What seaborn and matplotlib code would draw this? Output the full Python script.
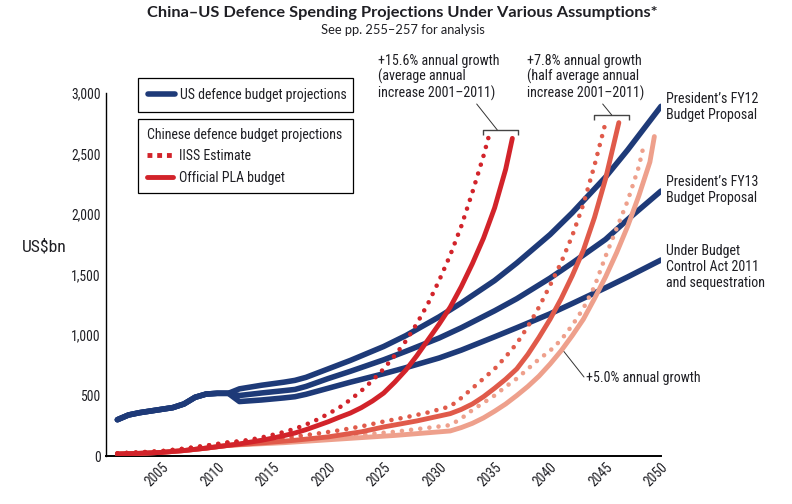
import matplotlib
matplotlib.use("Agg")
import matplotlib.pyplot as plt
import seaborn as sns
import pandas as pd
from matplotlib import font_manager
from matplotlib.lines import Line2D
from matplotlib.ticker import FixedLocator, FuncFormatter

# ---------------- data ----------------
us_hist_years = [2001, 2002, 2003, 2004, 2005, 2006, 2007, 2008, 2009, 2010, 2011]
us_hist = [300, 339, 358, 372, 386, 400, 430, 485, 512, 518, 518]

us_proj_years = [2012, 2014, 2016, 2017, 2018, 2020, 2022, 2025, 2027, 2030, 2032, 2035,
                 2037, 2040, 2042, 2045, 2047, 2050]
us_fy12 = [555, 585, 610, 625, 650, 720, 790, 905, 995, 1150, 1265, 1450,
           1595, 1830, 2010, 2305, 2530, 2890]
us_fy13 = [500, 521, 540, 550, 575, 640, 700, 795, 865, 975, 1060, 1200,
           1300, 1470, 1595, 1790, 1955, 2190]
us_bca = [450, 463, 480, 490, 510, 560, 610, 680, 730, 810, 875, 985,
          1060, 1175, 1260, 1390, 1480, 1620]

cn_hist_years = [2001, 2003, 2005, 2007, 2009]
cn_official_hist = [17, 22, 30, 45, 65]
cn_iiss_hist = [22, 30, 40, 60, 85]

off156_years = [2011, 2012, 2013, 2014, 2015, 2016, 2017, 2018, 2019, 2020, 2021, 2022, 2023,
                2024, 2025, 2026, 2027, 2028, 2029, 2030, 2031, 2032, 2033, 2034, 2035, 2036,
                2036.6]
off156 = [88, 100, 115, 130, 148, 168, 190, 218, 250, 283, 320, 355, 400,
          455, 520, 610, 710, 830, 960, 1090, 1230, 1400, 1590, 1800, 2050, 2370,
          2625]
iiss156_years = [2011, 2012, 2013, 2014, 2015, 2016, 2017, 2018, 2019, 2020, 2021, 2022, 2023,
                 2024, 2025, 2026, 2027, 2028, 2029, 2030, 2031, 2032, 2033, 2034, 2034.5]
iiss156 = [112, 122, 135, 153, 175, 198, 225, 260, 300, 348, 400, 465, 540,
           625, 720, 830, 950, 1095, 1260, 1450, 1660, 1900, 2180, 2480, 2650]

off78_years = [2011, 2014, 2017, 2020, 2023, 2025, 2028, 2031, 2032, 2033, 2034, 2035, 2036,
               2037, 2038, 2039, 2040, 2041, 2042, 2043, 2044, 2045, 2046.2]
off78 = [88, 108, 130, 158, 200, 240, 290, 350, 385, 430, 490, 560, 635,
         720, 840, 980, 1130, 1300, 1490, 1700, 1970, 2290, 2755]
iiss78_years = [2011, 2013, 2015, 2017, 2019, 2021, 2023, 2025, 2027, 2029, 2031, 2032, 2033,
                2034, 2035, 2036, 2037, 2038, 2039, 2040, 2041, 2042, 2043, 2044, 2045.1]
iiss78 = [112, 125, 140, 160, 185, 212, 245, 285, 320, 360, 410, 480, 560,
          640, 720, 820, 930, 1070, 1230, 1410, 1600, 1820, 2080, 2400, 2790]

off50_years = [2011, 2016, 2021, 2026, 2031, 2032, 2033, 2034, 2035, 2036, 2037, 2038, 2039,
               2040, 2041, 2042, 2043, 2044, 2045, 2046, 2047, 2048, 2049, 2049.4]
off50 = [88, 110, 140, 170, 207, 235, 270, 315, 370, 430, 500, 575, 660,
         760, 870, 995, 1130, 1300, 1480, 1680, 1900, 2150, 2430, 2640]
iiss50_years = [2011, 2016, 2021, 2026, 2031, 2032, 2033, 2034, 2035, 2036, 2037, 2038, 2039,
                2040, 2041, 2042, 2043, 2044, 2045, 2046, 2047, 2048, 2048.4]
iiss50 = [112, 130, 160, 200, 255, 310, 380, 440, 500, 573, 640, 720, 800,
          870, 960, 1080, 1220, 1400, 1650, 1880, 2110, 2390, 2550]

y_ticks = [0, 500, 1000, 1500, 2000, 2500, 3000]
x_major = [2005, 2010, 2015, 2020, 2025, 2030, 2035, 2040, 2045, 2050]

title = "China\u2013US Defence Spending Projections Under Various Assumptions*"
subtitle = "See pp. 255\u2013257 for analysis"
ylabel = "US$bn"
lbl_fy12 = "President\u2019s FY12\nBudget Proposal"
lbl_fy13 = "President\u2019s FY13\nBudget Proposal"
lbl_bca = "Under Budget\nControl Act 2011\nand sequestration"
lbl_156 = "+15.6% annual growth\n(average annual\nincrease 2001\u20132011)"
lbl_78 = "+7.8% annual growth\n(half average annual\nincrease 2001\u20132011)"
lbl_50 = "+5.0% annual growth"
leg_us = "US defence budget projections"
leg_cn_title = "Chinese defence budget projections"
leg_iiss = "IISS Estimate"
leg_off = "Official PLA budget"

# ---------------- style ----------------
sns.set_style("white")
names = {f.name for f in font_manager.fontManager.ttflist}
narrow = None
for cand in ["Liberation Sans Narrow", "Roboto Condensed", "Open Sans Condensed", "Noto Sans Condensed"]:
    if cand in names:
        narrow = cand
        break
if narrow:
    BODY = [narrow, "DejaVu Sans"]
    FS = 10.1
else:
    BODY = ["Liberation Sans", "DejaVu Sans"]
    FS = 8.8
TITLEF = ["Lato", "DejaVu Sans"] if "Lato" in names else ["DejaVu Sans"]
plt.rcParams["font.family"] = BODY
TXT = "#1f1f24"

NAVY = "#1e3a78"
CRIMSON = "#d2232a"
MIDRED = "#e05a4a"
SALMON = "#eea08c"

W, H = 792, 504
fig = plt.figure(figsize=(W / 100, H / 100), dpi=100)
ax_l, ax_r, ax_b, ax_t = 106.3, 661.0, 456.0, 93.0
ax = fig.add_axes([ax_l / W, 1 - ax_b / H, (ax_r - ax_l) / W, (ax_b - ax_t) / H])


def px2data(x, y):
    return 2000 + (x - ax_l) / (ax_r - ax_l) * 50, (ax_b - y) / (ax_b - ax_t) * 3000


def series(xs, ys, name):
    return pd.DataFrame({"year": xs, "value": ys, "series": name})


frames = {
    "fy12": series(us_hist_years + us_proj_years, us_hist + us_fy12, "fy12"),
    "fy13": series(us_hist_years + us_proj_years, us_hist + us_fy13, "fy13"),
    "bca": series(us_hist_years + us_proj_years, us_hist + us_bca, "bca"),
    "off50": series(cn_hist_years + off50_years, cn_official_hist + off50, "off50"),
    "iiss50": series(cn_hist_years + iiss50_years, cn_iiss_hist + iiss50, "iiss50"),
    "off78": series(cn_hist_years + off78_years, cn_official_hist + off78, "off78"),
    "iiss78": series(cn_hist_years + iiss78_years, cn_iiss_hist + iiss78, "iiss78"),
    "off156": series(cn_hist_years + off156_years, cn_official_hist + off156, "off156"),
    "iiss156": series(cn_hist_years + iiss156_years, cn_iiss_hist + iiss156, "iiss156"),
}

DOT = (0, (0.01, 2.0))
styles = [
    ("bca", NAVY, 4.0, "-"), ("fy13", NAVY, 4.0, "-"), ("fy12", NAVY, 4.0, "-"),
    ("off50", SALMON, 3.5, "-"), ("iiss50", SALMON, 3.3, DOT),
    ("off78", MIDRED, 3.5, "-"), ("iiss78", MIDRED, 3.3, DOT),
    ("off156", CRIMSON, 3.5, "-"), ("iiss156", CRIMSON, 3.3, DOT),
]
for z, (key, col, lw, ls) in enumerate(styles):
    sns.lineplot(data=frames[key], x="year", y="value", ax=ax, color=col, linewidth=lw,
                 linestyle=ls, solid_capstyle="round", dash_capstyle="round",
                 solid_joinstyle="round", estimator=None, sort=False, legend=False,
                 zorder=3 + z * 0.1)

ax.set_xlim(2000, 2050)
ax.set_ylim(0, 3000)
ax.set_xlabel("")
ax.set_ylabel("")
for s in ["top", "right"]:
    ax.spines[s].set_visible(False)
ax.spines["left"].set_color("black")
ax.spines["left"].set_linewidth(1.0)
ax.spines["bottom"].set_color("black")
ax.spines["bottom"].set_linewidth(1.4)

ax.yaxis.set_major_locator(FixedLocator(y_ticks))
ax.yaxis.set_major_formatter(FuncFormatter(lambda v, p: f"{int(v):,}"))
ax.tick_params(axis="y", length=0, pad=4, labelsize=FS - 0.3, labelcolor=TXT)

ax.xaxis.set_major_locator(FixedLocator(x_major))
ax.xaxis.set_minor_locator(FixedLocator([y for y in range(2001, 2050) if y % 5]))
ax.tick_params(axis="x", which="major", direction="in", length=6.5, width=2.4, color="black",
               pad=3, labelsize=FS - 0.3, labelcolor=TXT)
ax.tick_params(axis="x", which="minor", direction="in", length=6.5, width=0.8, color="black")
ax.set_xticks(x_major)
ax.set_xticklabels([str(v) for v in x_major], rotation=45, ha="right", va="top",
                   rotation_mode="anchor")
ax.grid(False)

# ---------------- annotations ----------------
def line_px(pts, **kw):
    xs, ys = zip(*[px2data(*p) for p in pts])
    ax.plot(xs, ys, clip_on=False, **kw)

BR = dict(color="#444444", lw=1.0, solid_capstyle="butt")
line_px([(482.7, 135), (482.7, 130), (518.3, 130), (518.3, 135)], **BR)
line_px([(497.3, 130), (476.7, 104)], color="#333333", lw=0.7)
line_px([(594.3, 120), (594.3, 115), (629.3, 115), (629.3, 120)], **BR)
line_px([(611.7, 115), (602.7, 104)], color="#333333", lw=0.7)
line_px([(562.7, 350), (584.0, 377)], color="#333333", lw=0.7)

def text_px(x, y, s, **kw):
    dx, dy = px2data(x, y)
    ax.text(dx, dy, s, fontsize=FS, color=TXT, clip_on=False, **kw)

text_px(378.3, 77.5, lbl_156, ha="left", va="center", linespacing=1.1)
text_px(526.7, 77.5, lbl_78, ha="left", va="center", linespacing=1.1)
text_px(586.5, 378.3, lbl_50, ha="left", va="center")
text_px(666.5, 107.0, lbl_fy12, ha="left", va="center", linespacing=1.2)
text_px(666.5, 190.3, lbl_fy13, ha="left", va="center", linespacing=1.2)
text_px(666.5, 267.3, lbl_bca, ha="left", va="center", linespacing=1.2)

# ---------------- legends ----------------
leg_kw = dict(frameon=True, fancybox=False, shadow=False, framealpha=1, edgecolor="black",
              fontsize=FS - 0.1, handlelength=1.9, handletextpad=0.4,
              mode="expand", borderaxespad=0, loc="upper left", labelcolor=TXT)
h_us = Line2D([], [], color=NAVY, lw=4.0, solid_capstyle="round")
leg1 = fig.legend([h_us], [leg_us], bbox_to_anchor=(138.3 / W, 1 - 78 / H, 215 / W, 0),
                  labelspacing=0.35, borderpad=0.72, **leg_kw)
leg1.get_frame().set_linewidth(0.9)
h_iiss = Line2D([], [], color=CRIMSON, lw=3.5, linestyle=(0, (1.0, 1.0)), dash_capstyle="butt")
h_off = Line2D([], [], color=CRIMSON, lw=3.5, solid_capstyle="round")
leg2 = fig.legend([h_iiss, h_off], [leg_iiss, leg_off], title=leg_cn_title,
                  title_fontsize=FS - 0.1, alignment="left", labelspacing=0.55,
                  borderpad=0.6,
                  bbox_to_anchor=(138.3 / W, 1 - 119.3 / H, 215 / W, 0), **leg_kw)
leg2.get_title().set_color(TXT)
leg2.get_frame().set_linewidth(0.9)

# ---------------- titles ----------------
fig.text(402.5 / W, 1 - 13 / H, title, ha="center", va="center", fontsize=11.8,
         fontweight="bold", family=TITLEF, color=TXT)
fig.text(402.5 / W, 1 - 30 / H, subtitle, ha="center", va="center", fontsize=9.3,
         family=TITLEF, color=TXT)
fig.text(22 / W, 1 - 247 / H, ylabel, ha="left", va="center", fontsize=FS + 2.5, color=TXT)

fig.savefig("out.png", dpi=100)
